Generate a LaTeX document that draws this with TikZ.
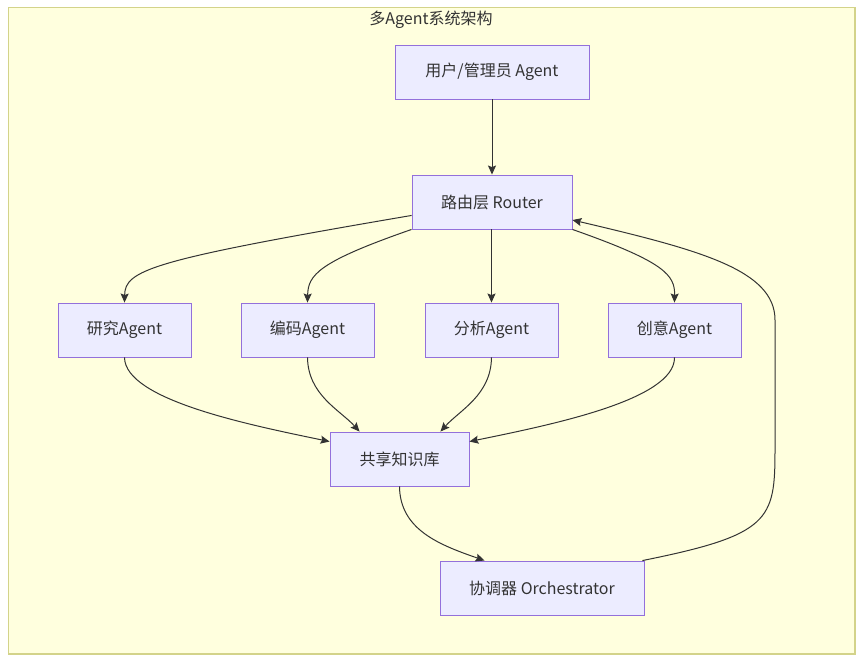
\documentclass[tikz,border=0pt]{standalone}
\usepackage{fontspec}
\setmainfont{Noto Sans CJK SC}
\usepackage{tikz}
\usetikzlibrary{arrows.meta}
\definecolor{clusterfill}{HTML}{FFFFDE}
\definecolor{clusterline}{HTML}{D3D38A}
\definecolor{boxfill}{HTML}{ECECFF}
\definecolor{boxline}{HTML}{9370DB}
\definecolor{edgecol}{HTML}{333333}
\tikzset{
  box/.style={rectangle, draw=boxline, fill=boxfill, line width=0.9pt,
    minimum height=54pt, inner xsep=0pt, text=edgecol},
  flow/.style={draw=edgecol, line width=1pt, -{Stealth[length=9pt, width=8pt, inset=1.5pt]}},
  >=Stealth
}

\begin{document}
\begin{tikzpicture}[x=1pt, y=-1pt, every node/.style={font=\fontsize{16}{18}\selectfont}]
  \useasboundingbox[fill=white] (0,0) rectangle (863,661);
  \draw[clusterline, fill=clusterfill, line width=1.8pt] (8.5,7.5) rectangle (855,654);
  \node[text=edgecol] (title) at (431,20) {多Agent系统架构};
  \node[box, minimum width=194pt] (user) at (492,72) {用户/管理员 Agent};
  \node[box, minimum width=160pt] (router) at (492,202) {路由层 Router};
  \node[box, minimum width=133pt] (research) at (124.5,330) {研究Agent};
  \node[box, minimum width=133pt] (coding) at (307.5,330) {编码Agent};
  \node[box, minimum width=133pt] (analysis) at (491.5,330) {分析Agent};
  \node[box, minimum width=133pt] (creative) at (674.5,330) {创意Agent};
  \node[box, minimum width=139pt] (kb) at (399.5,459) {共享知识库};
  \node[box, minimum width=204pt] (orch) at (542,588) {协调器 Orchestrator};
  \draw[flow] (user) -- (router);
  % router to agents
  \draw[flow] ([yshift=14pt]router.south west) .. controls (150,260) and (125,270) .. (research.north);
  \draw[flow] (router.south west) .. controls (318,262) and (308,275) .. (coding.north);
  \draw[flow] (router.south -| analysis.north) -- (analysis.north);
  \draw[flow] (router.south east) .. controls (665,262) and (675,275) .. (creative.north);
  % agents to knowledge base
  \draw[flow] (research.south) .. controls (125,400) and (250,425) .. ([yshift=-10pt]kb.north west);
  \draw[flow] (coding.south) .. controls (308,395) and (340,410) .. ([xshift=30pt]kb.north west);
  \draw[flow] (analysis.south) .. controls (491,395) and (460,410) .. ([xshift=-29pt]kb.north east);
  \draw[flow] (creative.south) .. controls (675,400) and (550,425) .. ([yshift=-10pt]kb.north east);
  % knowledge base to orchestrator and back to router
  \draw[flow] (kb.south) .. controls (400,530) and (440,545) .. ([xshift=45pt]orch.north west);
  \draw[flow] ([xshift=-2pt]orch.north east) .. controls (770,535) and (775,520) .. (775,450)
    -- (775,320) .. controls (775,270) and (700,250) .. ([yshift=-18pt]router.east);
\end{tikzpicture}
\end{document}
